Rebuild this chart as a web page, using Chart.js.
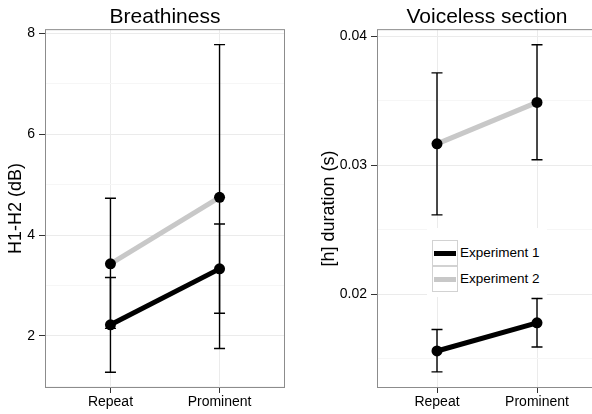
<!DOCTYPE html>
<html>
<head>
<meta charset="utf-8">
<script src="https://cdn.jsdelivr.net/npm/chart.js@4.4.1/dist/chart.umd.min.js"></script>
<style>
  html, body { margin: 0; padding: 0; background: #fff; }
  #wrap { position: relative; width: 592px; height: 414px; overflow: hidden; font-family: "Liberation Sans", Arial, sans-serif; }
  #left { position: absolute; left: 0; top: 0; }
  #right { position: absolute; left: 296px; top: 0; }
  #legend { position: absolute; left: 427px; top: 228px; width: 120px; height: 69px; background: #fff; }
  #legend .row { position: absolute; left: 5px; height: 25px; }
  #legend .key { position: absolute; left: 0; top: 0; width: 24px; height: 24px; border: 1px solid #d2d2d2; background: #fff; }
  #legend .key i { position: absolute; left: 1px; top: 10px; width: 22px; height: 5px; }
  #legend .lab { position: absolute; left: 28px; top: 5px; font-size: 13.5px; color: #000; white-space: nowrap; }
</style>
</head>
<body>
<div id="wrap">
  <canvas id="left" width="296" height="414"></canvas>
  <canvas id="right" width="301" height="414"></canvas>
  <div id="legend"></div>
</div>
<script>
// categories and series
const categories = ["Repeat", "Prominent"];
const seriesNames = ["Experiment 1", "Experiment 2"];
const seriesColors = ["#000000", "#c8c8c8"];

// Breathiness (H1-H2, dB)
const breathExp1 = [2.22, 3.33];
const breathExp1Lo = [1.28, 2.45];
const breathExp1Hi = [3.16, 4.22];
const breathExp2 = [3.43, 4.75];
const breathExp2Lo = [2.15, 1.75];
const breathExp2Hi = [4.73, 7.78];
const breathTicks = [2, 4, 6, 8];
const breathMinor = [1, 3, 5, 7];

// Voiceless section ([h] duration, s)
const voiceExp1 = [0.01562, 0.01780];
const voiceExp1Lo = [0.01400, 0.01593];
const voiceExp1Hi = [0.01728, 0.01969];
const voiceExp2 = [0.03168, 0.03489];
const voiceExp2Lo = [0.02617, 0.03044];
const voiceExp2Hi = [0.03718, 0.03936];
const voiceTicks = [0.02, 0.03, 0.04];
const voiceMinor = [0.015, 0.025, 0.035];

Chart.defaults.font.family = '"Liberation Sans", Arial, sans-serif';
Chart.defaults.color = "#000";

// panel border + error bars
const frame = {
  id: "frame",
  afterDraw(chart) {
    const a = chart.chartArea, ctx = chart.ctx;
    ctx.save();
    ctx.strokeStyle = "#8c8c8c";
    ctx.lineWidth = 1;
    ctx.strokeRect(a.left + 0.5, a.top + 0.5, a.right - a.left - 1, a.bottom - a.top - 1);
    ctx.restore();
  }
};

const errorBars = {
  id: "errorBars",
  afterDatasetDraw(chart, args, opts) {
    if (args.index !== 2) return;
    const ctx = chart.ctx, xs = chart.scales.x, ys = chart.scales.y;
    ctx.save();
    ctx.strokeStyle = "#000";
    ctx.lineWidth = 1.4;
    opts.bars.forEach(b => {
      const x = xs.getPixelForValue(b.x);
      const y1 = ys.getPixelForValue(b.lo);
      const y2 = ys.getPixelForValue(b.hi);
      ctx.beginPath();
      ctx.moveTo(x, y1); ctx.lineTo(x, y2);
      ctx.moveTo(x - 5.5, y1); ctx.lineTo(x + 5.5, y1);
      ctx.moveTo(x - 5.5, y2); ctx.lineTo(x + 5.5, y2);
      ctx.stroke();
    });
    ctx.restore();
  }
};

function panel(id, p) {
  const pts = v => v.map((y, i) => ({ x: i + 1, y }));
  const bars = [];
  [[p.lo1, p.hi1], [p.lo2, p.hi2]].forEach(([lo, hi]) => {
    lo.forEach((l, i) => bars.push({ x: i + 1, lo: l, hi: hi[i] }));
  });
  const allTicks = p.major.concat(p.minor).sort((a, b) => a - b);
  const isMajor = v => p.major.includes(v);

  return new Chart(document.getElementById(id), {
    type: "line",
    data: {
      datasets: [
        { data: pts(p.exp1), showLine: false, pointRadius: 5.5, pointBackgroundColor: "#000", pointBorderWidth: 0 },
        { data: pts(p.exp2), showLine: false, pointRadius: 5.5, pointBackgroundColor: "#000", pointBorderWidth: 0 },
        { data: pts(p.exp1), borderColor: seriesColors[0], borderWidth: 5, pointRadius: 0 },
        { data: pts(p.exp2), borderColor: seriesColors[1], borderWidth: 5, pointRadius: 0 },
      ],
    },
    options: {
      responsive: false,
      animation: false,
      events: [],
      layout: { autoPadding: false, padding: { left: 0, top: 0, bottom: 0, right: p.padRight } },
      plugins: {
        legend: { display: false },
        tooltip: { enabled: false },
        title: {
          display: true,
          text: p.title,
          fullSize: false,
          color: "#000",
          font: { size: 21, weight: "normal", lineHeight: 1.15 },
          padding: { top: 5, bottom: 0 },
        },
        errorBars: { bars },
      },
      scales: {
        x: {
          type: "linear",
          min: 0.4,
          max: 2.6,
          afterBuildTicks: s => { s.ticks = categories.map((c, i) => ({ value: i + 1 })); },
          afterFit: s => { s.height = 26; s.paddingLeft = 0; s.paddingRight = 0; },
          ticks: {
            callback: v => categories[v - 1],
            color: "#000",
            font: { size: 14 },
            padding: 1,
            maxRotation: 0,
            autoSkip: false,
          },
          grid: { color: "#ebebeb", tickColor: "#333", tickLength: 5 },
          border: { display: false },
        },
        y: {
          min: p.min,
          max: p.max,
          afterBuildTicks: s => { s.ticks = allTicks.map(v => ({ value: v })); },
          afterFit: s => { s.width = p.axisWidth; },
          ticks: {
            callback: v => (isMajor(v) ? p.fmt(v) : ""),
            color: "#000",
            font: { size: 14 },
            padding: 4,
            autoSkip: false,
          },
          grid: {
            color: c => (isMajor(c.tick.value) ? "#ebebeb" : "#f6f6f6"),
            tickColor: c => (isMajor(c.tick.value) ? "#333" : "rgba(0,0,0,0)"),
            tickLength: 6,
          },
          border: { display: false },
          title: {
            display: true,
            text: p.yTitle,
            color: "#000",
            font: { size: 18 },
            padding: { top: p.titlePad, bottom: 0 },
          },
        },
      },
    },
    plugins: [frame, errorBars],
  });
}

panel("left", {
  title: "Breathiness",
  yTitle: "H1-H2 (dB)",
  exp1: breathExp1, lo1: breathExp1Lo, hi1: breathExp1Hi,
  exp2: breathExp2, lo2: breathExp2Lo, hi2: breathExp2Hi,
  major: breathTicks, minor: breathMinor,
  min: 0.966, max: 8.087,
  fmt: v => String(v),
  axisWidth: 45,
  titlePad: 5,
  padRight: 11,
});

panel("right", {
  title: "Voiceless section",
  yTitle: "[h] duration (s)",
  exp1: voiceExp1, lo1: voiceExp1Lo, hi1: voiceExp1Hi,
  exp2: voiceExp2, lo2: voiceExp2Lo, hi2: voiceExp2Hi,
  major: voiceTicks, minor: voiceMinor,
  min: 0.01275, max: 0.04057,
  fmt: v => v.toFixed(2),
  axisWidth: 81,
  titlePad: 22,
  padRight: 0,
});

// legend
const legend = document.getElementById("legend");
seriesNames.forEach((name, i) => {
  const row = document.createElement("div");
  row.className = "row";
  row.style.top = (12 + i * 26) + "px";
  row.innerHTML = '<span class="key"><i style="background:' + seriesColors[i] + '"></i></span><span class="lab"></span>';
  row.querySelector(".lab").textContent = name;
  legend.appendChild(row);
});
</script>
</body>
</html>
